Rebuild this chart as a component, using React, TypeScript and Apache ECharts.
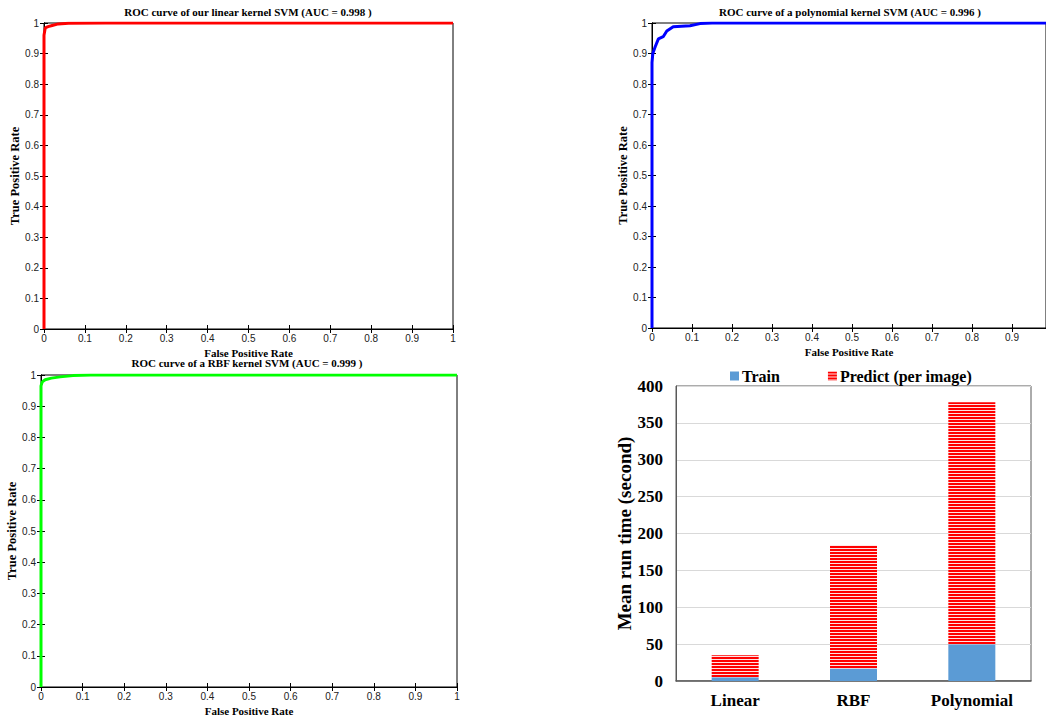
import React, { useEffect, useRef } from "react";
import * as echarts from "echarts";

// ROC curve data
const linearFpr = [0, 0, 0.003, 0.01, 0.02, 0.035, 0.06, 0.15, 1];
const linearTpr = [0, 0.96, 0.984, 0.988, 0.992, 0.997, 0.999, 1, 1];
const polyFpr = [0, 0, 0.002, 0.008, 0.016, 0.028, 0.037, 0.053, 0.095, 0.12, 0.15, 1];
const polyTpr = [0, 0.87, 0.9, 0.922, 0.948, 0.955, 0.974, 0.988, 0.991, 0.998, 1, 1];
const rbfFpr = [0, 0, 0.003, 0.01, 0.025, 0.046, 0.077, 0.12, 1];
const rbfTpr = [0, 0.965, 0.978, 0.985, 0.99, 0.994, 0.998, 1, 1];

// Run time bar chart data
const kernels = ["Linear", "RBF", "Polynomial"];
const trainTimes = [5, 17, 50];
const predictTimes = [30, 167, 328];

const rocTitles = [
  "ROC curve of our linear kernel SVM (AUC = 0.998 )",
  "ROC curve of a polynomial kernel SVM (AUC = 0.996 )",
  "ROC curve of a RBF kernel SVM (AUC = 0.999 )",
];

const SERIF = "'Liberation Serif', 'Times New Roman', serif";
const SANS = "'Liberation Sans', Arial, sans-serif";

function pairs(x: number[], y: number[]) {
  return x.map((v, i) => [v, y[i]]);
}

export default function App() {
  const ref = useRef<HTMLDivElement>(null);
  useEffect(() => {
    if (!ref.current) return;
    const chart = echarts.init(ref.current, null, { renderer: "svg" });

    const cv = document.createElement("canvas");
    cv.width = 4;
    cv.height = 3;
    const ctx = cv.getContext("2d")!;
    ctx.fillStyle = "#ffe2e2";
    ctx.fillRect(0, 0, 4, 3);
    ctx.fillStyle = "#ff0000";
    ctx.fillRect(0, 0, 4, 2);
    const stripe: any = { image: cv.toDataURL(), repeat: "repeat", imageWidth: 4, imageHeight: 3 };

    const grids = [
      { left: 44, top: 23, width: 409, height: 306 },
      { left: 652, top: 23, width: 394, height: 305 },
      { left: 41, top: 375, width: 416, height: 312 },
    ];
    const xMax = [1, 0.985, 1];
    const yGaps = [21, 21, 22];

    const xAxes: any[] = [];
    const yAxes: any[] = [];
    const gridOpts: any[] = [];
    grids.forEach((g, i) => {
      gridOpts.push({ ...g, show: true, borderColor: "#000", borderWidth: 1, backgroundColor: "#fff" });
      const common = {
        gridIndex: i,
        type: "value",
        min: 0,
        interval: 0.1,
        splitLine: { show: false },
        axisLine: { show: true, lineStyle: { color: "#000", width: 1 } },
        axisTick: { show: true, inside: true, length: 4, lineStyle: { color: "#000" } },
      };
      xAxes.push({
        ...common,
        max: xMax[i],
        position: "bottom",
        name: "False Positive Rate",
        nameLocation: "middle",
        nameGap: 18.5,
        nameTextStyle: { fontFamily: SERIF, fontWeight: "bold", fontSize: 11, color: "#000" },
        axisLabel: { fontFamily: SANS, fontSize: 10, color: "#222", margin: 4, showMaxLabel: xMax[i] === 1 },
      });
      xAxes.push({ ...common, max: xMax[i], position: "top", axisLabel: { show: false } });
      yAxes.push({
        ...common,
        max: 1,
        position: "left",
        name: "True Positive Rate",
        nameLocation: "middle",
        nameGap: yGaps[i],
        nameTextStyle: { fontFamily: SERIF, fontWeight: "bold", fontSize: 12.5, color: "#000" },
        axisLabel: { fontFamily: SANS, fontSize: 10, color: "#222", margin: 5 },
      });
      yAxes.push({ ...common, max: 1, position: "right", axisLabel: { show: false } });
    });

    gridOpts.push({ left: 676, top: 386, width: 355, height: 295, show: true, borderColor: "#595959", borderWidth: 1 });
    xAxes.push({
      gridIndex: 3,
      type: "category",
      data: kernels,
      axisLine: { lineStyle: { color: "#595959", width: 1.5 } },
      axisTick: { show: false },
      axisLabel: { fontFamily: SERIF, fontWeight: "bold", fontSize: 17, color: "#000", margin: 11 },
    });
    yAxes.push({
      gridIndex: 3,
      type: "value",
      min: 0,
      max: 400,
      interval: 50,
      name: "Mean run time (second)",
      nameLocation: "middle",
      nameGap: 41.5,
      nameTextStyle: { fontFamily: SERIF, fontWeight: "bold", fontSize: 19, color: "#000" },
      axisLine: { show: true, lineStyle: { color: "#595959" } },
      axisTick: { show: false },
      splitLine: { lineStyle: { color: "#d9d9d9" } },
      axisLabel: { fontFamily: SERIF, fontWeight: "bold", fontSize: 17, color: "#000", margin: 13 },
    });

    const roc = [
      { fpr: linearFpr, tpr: linearTpr, color: "#ff0000" },
      { fpr: polyFpr, tpr: polyTpr, color: "#0000ff" },
      { fpr: rbfFpr, tpr: rbfTpr, color: "#00ff00" },
    ];

    const series: any[] = roc.map((r, i) => ({
      type: "line",
      xAxisIndex: i * 2,
      yAxisIndex: i * 2,
      data: pairs(r.fpr, r.tpr),
      showSymbol: false,
      symbol: "none",
      lineStyle: { color: r.color, width: 3 },
      itemStyle: { color: r.color },
      clip: true,
      z: 5,
    }));
    series.push({
      name: "Train",
      type: "bar",
      xAxisIndex: 6,
      yAxisIndex: 6,
      stack: "t",
      barWidth: 47,
      data: trainTimes,
      itemStyle: { color: "#5b9bd5" },
    });
    series.push({
      name: "Predict (per image)",
      type: "bar",
      xAxisIndex: 6,
      yAxisIndex: 6,
      stack: "t",
      barWidth: 47,
      data: predictTimes,
      itemStyle: { color: stripe },
    });

    const graphic = [
      { cx: 248, cy: 12, t: rocTitles[0] },
      { cx: 850, cy: 12, t: rocTitles[1] },
      { cx: 247, cy: 363, t: rocTitles[2] },
    ].map((g) => ({
      type: "text",
      x: g.cx,
      y: g.cy,
      style: {
        text: g.t,
        fontFamily: SERIF,
        fontWeight: "bold",
        fontSize: 11,
        fill: "#000",
        align: "center",
        verticalAlign: "middle",
      },
    }));

    chart.setOption({
      animation: false,
      backgroundColor: "#fff",
      grid: gridOpts,
      xAxis: xAxes,
      yAxis: yAxes,
      series,
      graphic,
      legend: {
        left: 725,
        top: 363,
        itemWidth: 9,
        itemHeight: 9,
        itemGap: 48,
        icon: "rect",
        data: ["Train", "Predict (per image)"],
        textStyle: { fontFamily: SERIF, fontWeight: "bold", fontSize: 16, color: "#000", padding: [0, 0, 0, -2] },
      },
    });
    return () => chart.dispose();
  }, []);
  return (
    <div
      ref={ref}
      style={{ position: "fixed", left: 0, top: 0, width: 1046, height: 718, background: "#fff" }}
    />
  );
}
